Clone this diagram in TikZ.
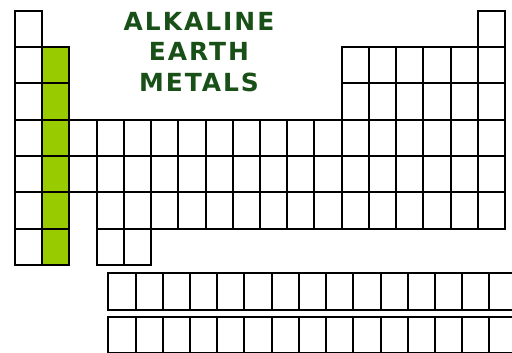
\documentclass[tikz,border=0pt]{standalone}
\usepackage{fontspec}
\newfontfamily\titlefont[LetterSpace=8]{DejaVu Sans}
\definecolor{aegreen}{RGB}{153,204,0}
\definecolor{titlegreen}{RGB}{24,80,24}
\begin{document}
\begin{tikzpicture}[x=1bp,y=-1bp,
  cell/.style={draw=black, line width=2bp, minimum width=27.22bp, minimum height=36.36bp, inner sep=0pt, outer sep=0pt},
  fcell/.style={cell, minimum height=36.7bp},
  alk/.style={cell, fill=aegreen},
  title/.style={text=titlegreen, font=\titlefont\bfseries\fontsize{25}{31}\selectfont, align=center, inner sep=0pt}]
\useasboundingbox[fill=white] (0,0) rectangle (512,352);
\def\cw{27.22}
\def\rh{36.36}
% main table
\foreach \r/\cols in {1/{1,18}, 2/{1,13,14,15,16,17,18}, 3/{1,13,14,15,16,17,18},
  4/{1,3,4,5,6,7,8,9,10,11,12,13,14,15,16,17,18}, 5/{1,3,4,5,6,7,8,9,10,11,12,13,14,15,16,17,18},
  6/{1,4,5,6,7,8,9,10,11,12,13,14,15,16,17,18}, 7/{1,4,5}}{
  \foreach \c in \cols {
    \node[cell] (c-\r-\c) at ({15+(\c-0.5)*\cw},{10.5+(\r-0.5)*\rh}) {};
  }
}
% alkaline earth metals column
\foreach \r in {2,...,7}{
  \node[alk] (c-\r-2) at ({15+1.5*\cw},{10.5+(\r-0.5)*\rh}) {};
}
% lanthanides and actinides
\foreach \i in {1,...,15}{
  \node[fcell] (f-1-\i) at ({108.3+(\i-0.5)*\cw},291.65) {};
  \node[fcell] (f-2-\i) at ({108.3+(\i-0.5)*\cw},335.05) {};
}
\node[title] (title) at (199,52) {ALKALINE\\EARTH\\METALS};
\end{tikzpicture}
\end{document}
